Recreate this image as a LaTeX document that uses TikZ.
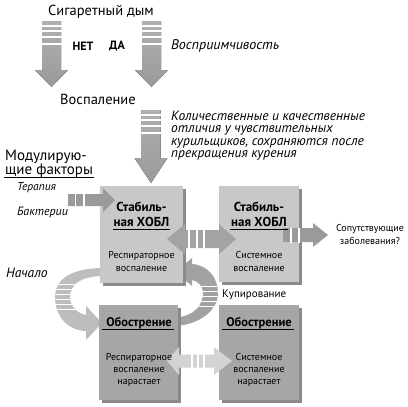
\documentclass[tikz,border=0pt]{standalone}
\usepackage{fontspec}
\setmainfont{PT Sans}
\usetikzlibrary{shadows}
\definecolor{arrowgray}{HTML}{9A9A9A}
\definecolor{arrowtop}{HTML}{B0B0B0}
\definecolor{boxlight}{HTML}{C8C8C8}
\definecolor{boxdark}{HTML}{A6A6A6}
\definecolor{shadowgray}{HTML}{8A8A8A}
\definecolor{lightarrow}{HTML}{D3D3D3}
\definecolor{midarrow}{HTML}{A3A3A3}
\definecolor{ringL}{HTML}{BDBDBD}
\definecolor{ringR}{HTML}{A2A2A2}
\newcommand\fs[2]{\fontsize{#1}{#2}\selectfont}
% down arrow: cx, top, head base, tip
\newcommand\dnarrow[4]{%
  \fill[top color=arrowtop,bottom color=arrowgray] ({#1-9.5},#2) -- ({#1+9.5},#2) -- ({#1+9.5},#3) -- ({#1+16.5},#3) -- (#1,#4) -- ({#1-16.5},#3) -- ({#1-9.5},#3) -- cycle;
  \foreach \s in {5,10,16,23} \draw[white,line width=1.2pt] ({#1-10},{#2+\s}) -- ({#1+10},{#2+\s});}
% right arrow: color, x start, head base, tip, cy, shaft half, head half
\newcommand\rtarrow[7]{%
  \fill[#1] (#2,{#5-#6}) -- (#3,{#5-#6}) -- (#3,{#5-#7}) -- (#4,#5) -- (#3,{#5+#7}) -- (#3,{#5+#6}) -- (#2,{#5+#6}) -- cycle;}
% double arrow: color, left tip, left base, right base, right tip, cy, shaft half, head half
\newcommand\dblarrow[8]{%
  \fill[#1] (#2,#6) -- (#3,{#6-#8}) -- (#3,{#6-#7}) -- (#4,{#6-#7}) -- (#4,{#6-#8}) -- (#5,#6) -- (#4,{#6+#8}) -- (#4,{#6+#7}) -- (#3,{#6+#7}) -- (#3,{#6+#8}) -- cycle;}
\newcommand\vstripes[3]{\foreach \s in {#1} \draw[white,line width=1.3pt] (\s,{#2-#3-0.5}) -- (\s,{#2+#3+0.5});}
\tikzset{
  boxA/.style={fill=boxlight,inner sep=0pt,drop shadow={shadow xshift=3pt,shadow yshift=-3pt,fill=shadowgray,opacity=1}},
  boxB/.style={fill=boxdark,inner sep=0pt,drop shadow={shadow xshift=3pt,shadow yshift=-3pt,fill=shadowgray,opacity=1}},
  head/.style={font=\fs{13}{15}\bfseries,inner sep=0pt},
  body/.style={font=\fs{10}{13},align=center,inner sep=0pt},
  bigtxt/.style={font=\fs{15}{16},inner sep=0pt},
  itl/.style={font=\fs{13.5}{12.2}\itshape,inner sep=0pt},
  uline/.style={line width=0.9pt}
}
\begin{document}
\begin{tikzpicture}[x=1pt,y=-1pt]
\useasboundingbox (0,0) rectangle (408,407);
% top texts
\node[bigtxt,font=\fs{14.5}{16}] (smoke) at (101,12) {Сигаретный дым};
\node[font=\fs{12}{14}\bfseries,inner sep=0pt] (net) at (83,46) {НЕТ};
\node[font=\fs{12}{14}\bfseries,inner sep=0pt] (da) at (117,46) {ДА};
\node[itl,font=\fs{14}{14}\itshape,anchor=west] (susc) at (171,46) {Восприимчивость};
\dnarrow{51.5}{21}{70}{87}
\dnarrow{151.5}{21}{70}{87}
\node[bigtxt,font=\fs{14.5}{16}] (infl) at (98,99) {Воспаление};
\dnarrow{151}{110}{158}{183}
\node[itl,align=left,anchor=north west] (diff) at (171,111) {Количественные и качественные\\отличия у чувствительных\\курильщиков, сохраняются после\\прекращения курения};
\node[bigtxt,anchor=west] (mod1) at (5,157) {Модулирую-};
\node[bigtxt,anchor=west] (mod2) at (5,171) {щие факторы};
\draw[uline] ([xshift=-1pt,yshift=-3pt]mod2.base west) -- ([xshift=1pt,yshift=-3pt]mod2.base east);
\node[itl,font=\fs{11.5}{12}\itshape,anchor=west] (ther) at (17,188) {Терапия};
\node[itl,font=\fs{12}{12}\itshape,anchor=west] (bact) at (17,212) {Бактерии};
\node[itl,font=\fs{13.5}{14}\itshape,anchor=west] (start) at (6,273) {Начало};
% rings
\def\ringleft{(104,268) .. controls (70,268) and (55,280) .. (55,297) .. controls (55,318) and (70,331) .. (86,331) -- (86,340) -- (102,323) -- (86,306) -- (86,315) .. controls (76,313) and (70,305) .. (70,297) .. controls (70,285) and (80,276) .. (104,276) -- cycle}
\fill[ringL] \ringleft;
\begin{scope}
\clip \ringleft;
\foreach \s in {284,289,294,299,304,309} \draw[white,line width=1pt] (50,\s) -- (80,\s);
\end{scope}
\def\ringright{(192,264) .. controls (208,265) and (218,278) .. (218,293) .. controls (218,310) and (200,325) .. (174,326) -- (174,318) .. controls (195,316) and (203,305) .. (203,293) .. controls (203,286) and (198,281) .. (192,280) -- (192,286) -- (175,272) -- (192,258) -- cycle}
\fill[ringR] \ringright;
\begin{scope}
\clip \ringright;
\foreach \s in {286,291,296,301,306} \draw[white,line width=1pt] (195,\s) -- (225,\s);
\end{scope}
\node[font=\fs{11}{12},anchor=west,inner sep=0pt] (kup) at (222,295) {Купирование};
% boxes
\node[boxA,minimum width=83pt,minimum height=97pt] (tl) at (141.5,234.5) {};
\node[boxA,minimum width=80pt,minimum height=96pt] (tr) at (259,234) {};
\node[boxB,minimum width=79pt,minimum height=95pt] (bl) at (138.5,352.5) {};
\node[boxB,minimum width=80pt,minimum height=95pt] (br) at (259,352.5) {};
% arrows over boxes
\rtarrow{arrowgray}{68}{103}{115}{200}{6}{12}
\vstripes{75.5,84}{200}{6}
\dblarrow{midarrow}{167}{185}{219}{236}{239}{9}{15}
\vstripes{189,197,204}{239}{9}
\rtarrow{arrowgray}{283}{313}{328}{235}{7}{12}
\vstripes{291,299}{235}{7}
\dblarrow{lightarrow}{167}{179}{214}{232}{361}{6.5}{14}
\vstripes{192,198,204}{361}{6.5}
% box texts
\node[head] (tl1) at (141.5,207) {Стабиль-};
\node[head] (tl2) at (141.5,222) {ная ХОБЛ};
\draw[uline] ([xshift=-1pt,yshift=-3pt]tl2.base west) -- ([xshift=1pt,yshift=-3pt]tl2.base east);
\node[body] (tl3) at (141.5,261.5) {Респираторное\\воспаление};
\node[head] (tr1) at (259,207) {Стабиль-};
\node[head] (tr2) at (259,222) {ная ХОБЛ};
\draw[uline] ([xshift=-1pt,yshift=-3pt]tr2.base west) -- ([xshift=1pt,yshift=-3pt]tr2.base east);
\node[body] (tr3) at (259,261.5) {Системное\\воспаление};
\node[head,font=\fs{12.5}{15}\bfseries] (bl1) at (139,323) {Обострение};
\draw[uline] ([xshift=-4pt,yshift=-3pt]bl1.base west) -- ([xshift=2pt,yshift=-3pt]bl1.base east);
\node[body,font=\fs{10}{12}] (bl2) at (139,370) {Респираторное\\воспаление\\нарастает};
\node[head,font=\fs{12.5}{15}\bfseries] (br1) at (259,323) {Обострение};
\draw[uline] ([xshift=-4pt,yshift=-3pt]br1.base west) -- ([xshift=2pt,yshift=-3pt]br1.base east);
\node[body,font=\fs{10}{12}] (br2) at (259,370) {Системное\\воспаление\\нарастает};
\node[body,font=\fs{10}{13}] (comorb) at (370,234) {Сопутствующие\\заболевания?};
\end{tikzpicture}
\end{document}
